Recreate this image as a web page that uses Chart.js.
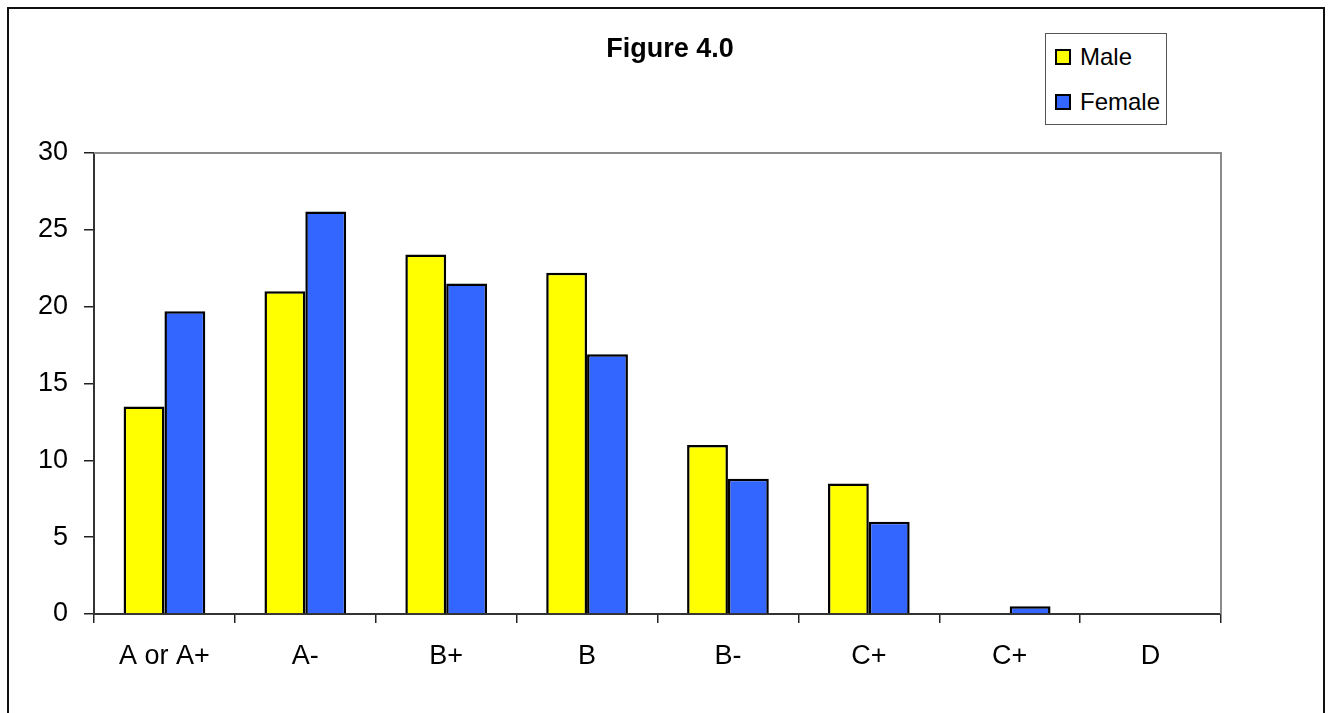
<!DOCTYPE html>
<html>
<head>
<meta charset="utf-8">
<title>Figure 4.0</title>
<script src="https://cdn.jsdelivr.net/npm/chart.js@4.4.1/dist/chart.umd.min.js"></script>
<style>
  html, body { margin: 0; padding: 0; background: #fff; overflow: hidden; }
  #wrap { position: relative; width: 1331px; height: 713px; }
  #frame { position: absolute; left: 7px; top: 7px; width: 1318px; height: 730px;
           border: 2px solid #111; box-sizing: border-box; pointer-events: none; }
  #legend { position: absolute; left: 1045px; top: 33px; width: 122px; height: 92px;
            border: 1px solid #555; box-sizing: border-box; background: #fff;
            font-family: "Liberation Sans", Arial, sans-serif; font-size: 24px; color: #000; }
  #legend div { position: absolute; left: 9px; height: 28px; line-height: 28px; white-space: nowrap; }
  #legend span.sw { display: inline-block; width: 12px; height: 12px; border: 2px solid #000;
                    vertical-align: middle; margin-right: 9px; position: relative; top: -2px; }
</style>
</head>
<body>
<div id="wrap">
  <canvas id="chart" width="1331" height="713"></canvas>
  <div id="frame"></div>
  <div id="legend"></div>
</div>
<script>
// grades along the x axis
let grades = ['A or A+', 'A-', 'B+', 'B', 'B-', 'C+', 'C+', 'D'];
// percent of students per grade
let male = [13.5, 21.0, 23.4, 22.2, 11.0, 8.5, 0, 0];
let female = [19.7, 26.2, 21.5, 16.9, 8.8, 6.0, 0.5, 0];
let yTicks = [0, 5, 10, 15, 20, 25, 30];

let font = '"Liberation Sans", Arial, sans-serif';

// gray frame on top/right of plot + title text
let extras = {
  id: 'extras',
  beforeDatasetsDraw(chart) {
    let a = chart.chartArea, c = chart.ctx;
    c.save();
    c.strokeStyle = '#8a8a8a';
    c.lineWidth = 2;
    c.beginPath();
    c.moveTo(a.left, a.top);
    c.lineTo(a.right, a.top);
    c.lineTo(a.right, a.bottom);
    c.stroke();
    c.restore();
  },
  afterDraw(chart) {
    let c = chart.ctx;
    c.save();
    c.fillStyle = '#000';
    c.font = 'bold 27px ' + font;
    c.textAlign = 'center';
    c.textBaseline = 'alphabetic';
    c.fillText('Figure 4.0', 670, 57);
    c.restore();
  }
};

let chart = new Chart(document.getElementById('chart'), {
  type: 'bar',
  data: {
    labels: grades,
    datasets: [
      { label: 'Male', data: male, backgroundColor: '#ffff00', borderColor: '#000', borderWidth: 2.5 },
      { label: 'Female', data: female, backgroundColor: '#3366ff', borderColor: '#000', borderWidth: 2.5 }
    ]
  },
  options: {
    responsive: false,
    animation: false,
    layout: { padding: { left: 0, right: 110, top: 153, bottom: 0 } },
    datasets: { bar: { categoryPercentage: 0.58, barPercentage: 1.0 } },
    plugins: { legend: { display: false }, title: { display: false }, tooltip: { enabled: false } },
    scales: {
      x: {
        grid: { drawOnChartArea: false, color: '#222', tickLength: 9, lineWidth: 1.5, offset: true },
        border: { color: '#333', width: 2 },
        ticks: { color: '#000', font: { family: font, size: 27 }, padding: 17, maxRotation: 0, autoSkip: false },
        afterFit(s) { s.height = 99; }
      },
      y: {
        min: 0, max: 30,
        afterBuildTicks(s) { s.ticks = yTicks.map(v => ({ value: v })); },
        grid: { drawOnChartArea: false, color: '#222', tickLength: 10, lineWidth: 1.5 },
        border: { color: '#333', width: 2 },
        ticks: { color: '#000', font: { family: font, size: 27 }, padding: 16 },
        afterFit(s) { s.width = 94; }
      }
    }
  },
  plugins: [extras]
});

// html legend built from the chart datasets
let leg = document.getElementById('legend');
chart.data.datasets.forEach((ds, i) => {
  let row = document.createElement('div');
  row.style.top = (i === 0 ? 9 : 54) + 'px';
  let sw = document.createElement('span');
  sw.className = 'sw';
  sw.style.background = ds.backgroundColor;
  row.appendChild(sw);
  row.appendChild(document.createTextNode(ds.label));
  leg.appendChild(row);
});
</script>
</body>
</html>
